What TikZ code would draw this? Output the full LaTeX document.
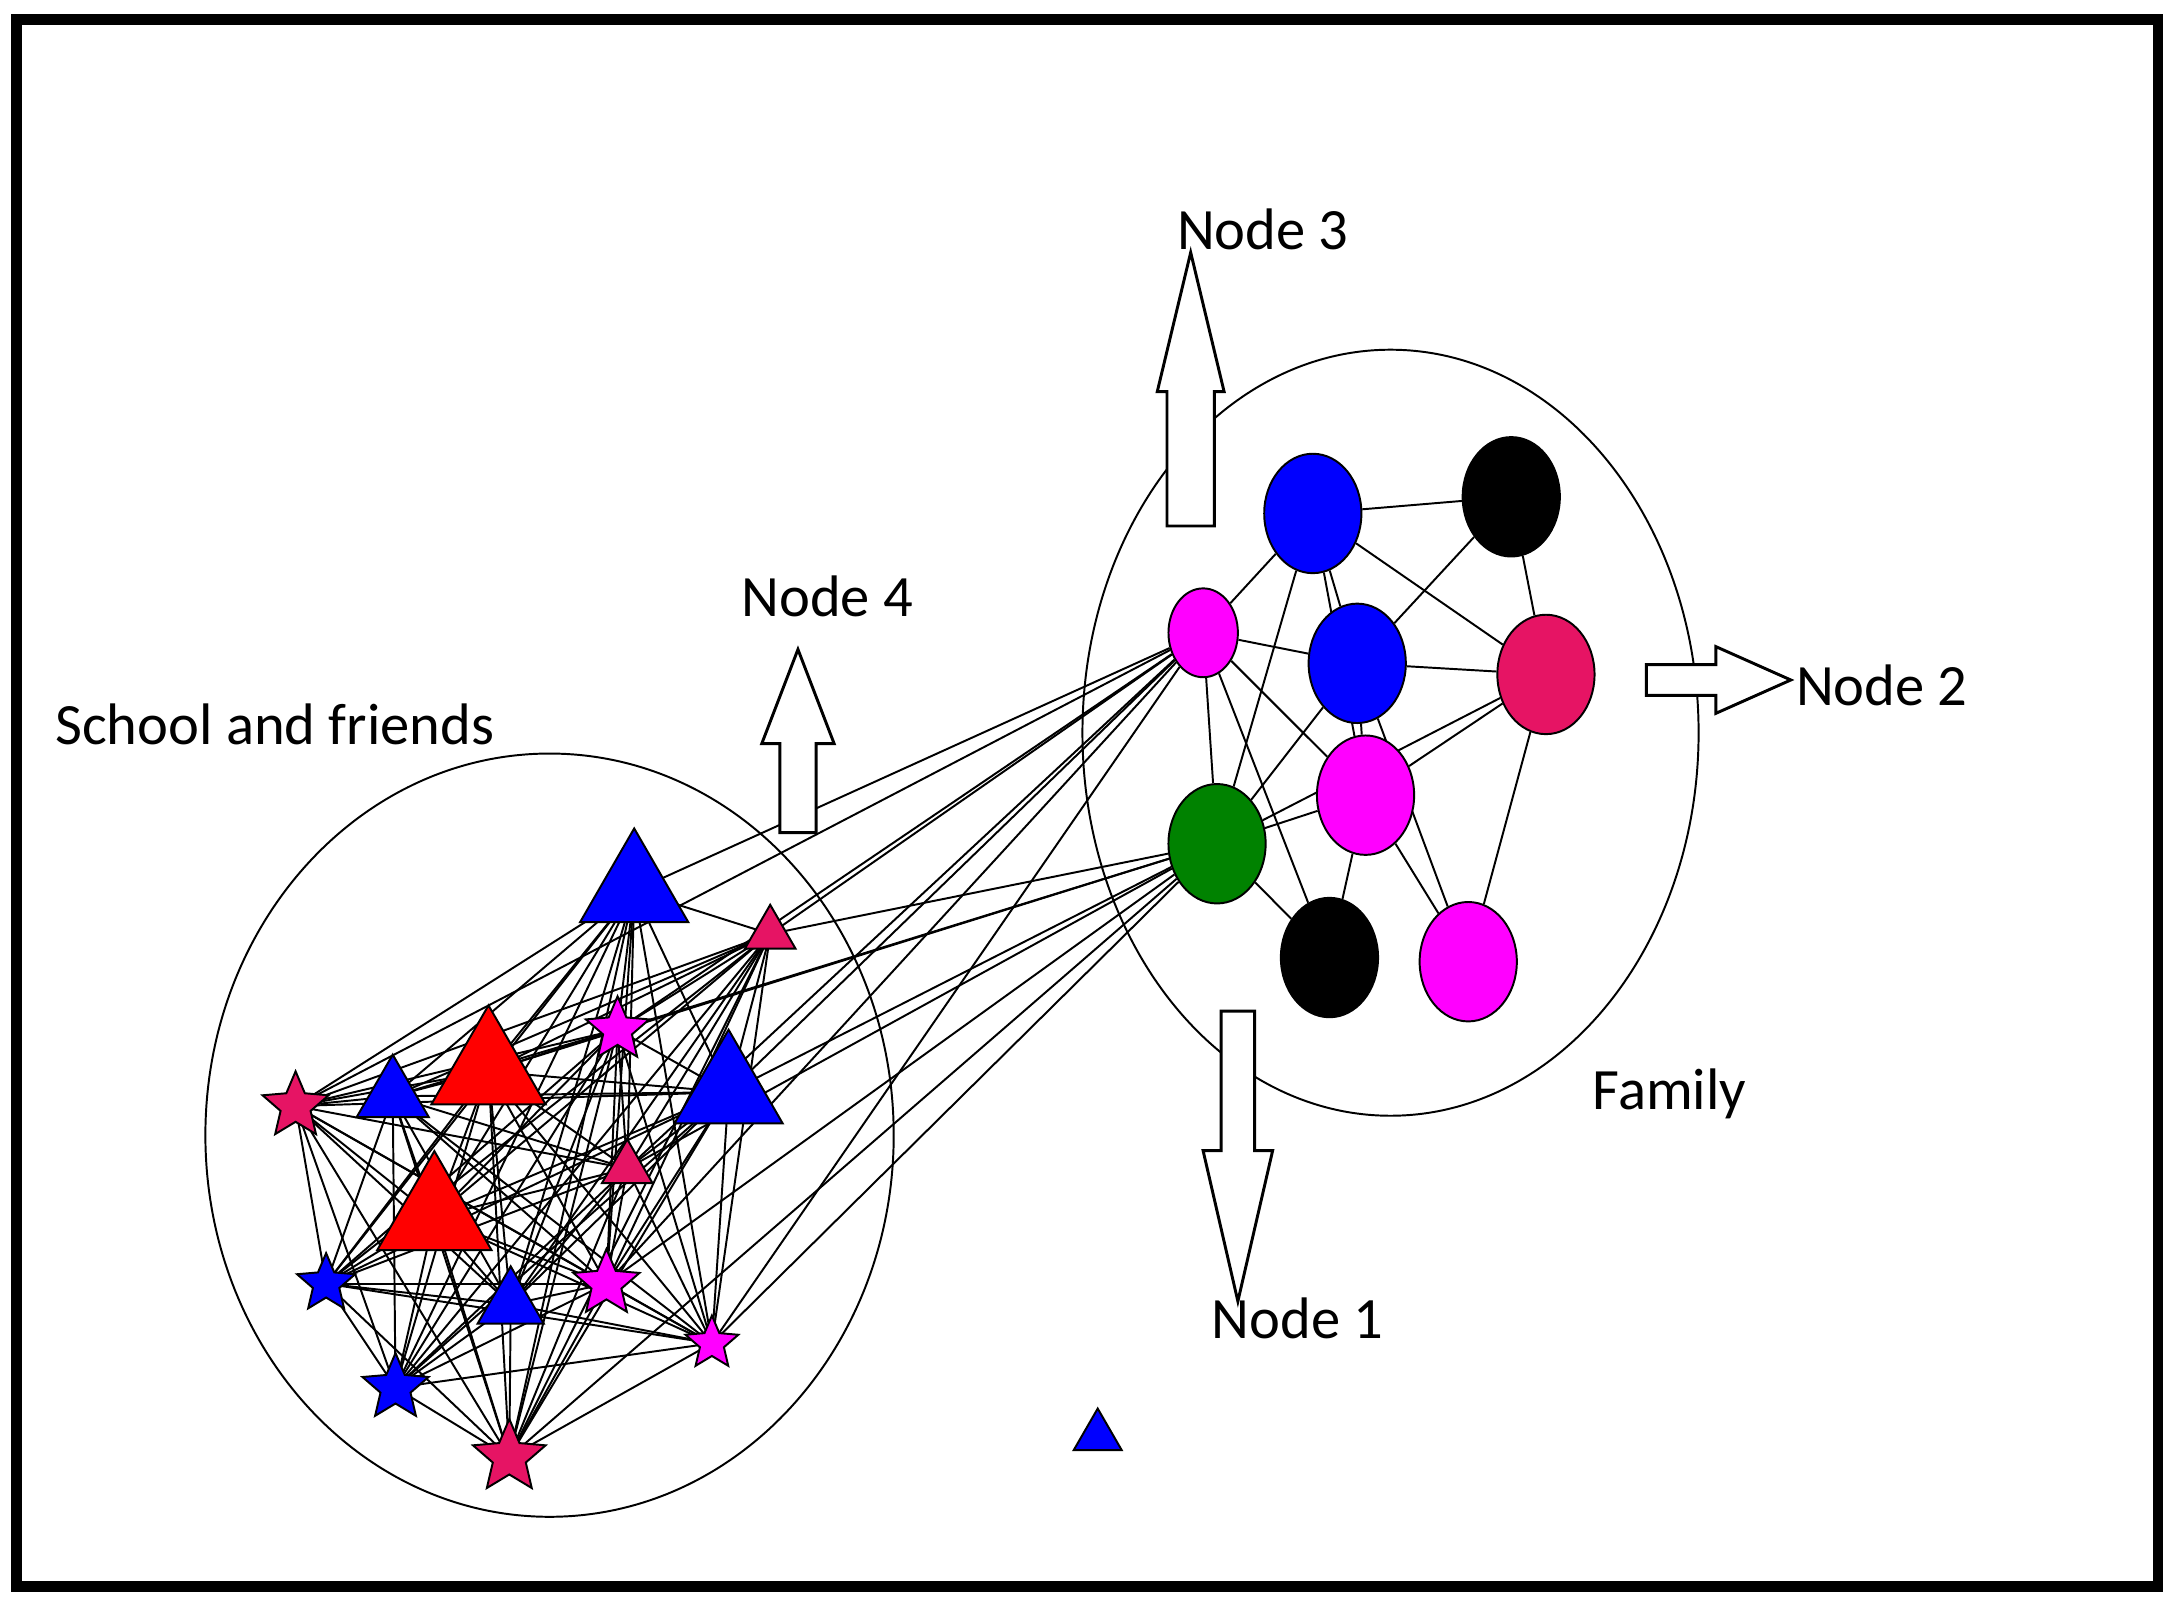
\documentclass[tikz,border=0pt]{standalone}
\usepackage{fontspec}
\setmainfont{Carlito}
\usetikzlibrary{shapes.geometric,shapes.arrows,backgrounds}
\definecolor{crimson}{RGB}{230,20,100}
\definecolor{mag}{RGB}{255,0,255}
\definecolor{grn}{RGB}{0,130,0}
\tikzset{
  fam/.style={ellipse,draw,fill=#1,minimum width=0.7cm,minimum height=0.86cm,inner sep=0pt},
  tri/.style={regular polygon,regular polygon sides=3,draw,fill=#1,inner sep=0pt},
  st/.style={star,star points=5,star point ratio=2.2,draw,fill=#1,inner sep=0pt},
  blk/.style={single arrow,draw,fill=white,inner xsep=0pt,line width=0.6pt},
  lbl/.style={font=\fontsize{12}{14}\selectfont},
  link/.style={draw,line width=0.4pt}
}
\begin{document}
\begin{tikzpicture}[x=0.01cm,y=-0.01cm]
  \useasboundingbox (0,0) rectangle (1568,1152);
  \draw[line width=2.2pt] (12,14) rectangle (1555,1143);
  % groups
  \draw (1002,528) ellipse [x radius=222,y radius=276];
  \draw (396,818) ellipse [x radius=248,y radius=275];
  % family
  \node[fam=blue] (f1) at (946,370) {};
  \node[fam=black] (f2) at (1089,358) {};
  \node[fam=mag,minimum width=0.5cm,minimum height=0.64cm] (f3) at (867,456) {};
  \node[fam=blue] (f4) at (978,478) {};
  \node[fam=crimson] (f5) at (1114,486) {};
  \node[fam=mag] (f6) at (984,573) {};
  \node[fam=grn] (f7) at (877,608) {};
  \node[fam=black] (f8) at (958,690) {};
  \node[fam=mag] (f9) at (1058,693) {};
  % school and friends
  \node[tri=blue,minimum size=0.9cm] (s1) at (457,642) {};
  \node[tri=crimson,minimum size=0.42cm] (s2) at (555,673) {};
  \node[st=mag,minimum size=0.48cm] (s3) at (445,742) {};
  \node[tri=red,minimum size=0.95cm] (s4) at (352,772) {};
  \node[tri=blue,minimum size=0.9cm] (s5) at (525,787) {};
  \node[st=crimson,minimum size=0.5cm] (s6) at (213,797) {};
  \node[tri=blue,minimum size=0.6cm] (s7) at (283,790) {};
  \node[tri=crimson,minimum size=0.42cm] (s8) at (452,842) {};
  \node[tri=red,minimum size=0.95cm] (s9) at (313,877) {};
  \node[st=blue,minimum size=0.44cm] (s10) at (235,925) {};
  \node[tri=blue,minimum size=0.55cm] (s11) at (368,940) {};
  \node[st=mag,minimum size=0.5cm] (s12) at (437,925) {};
  \node[st=mag,minimum size=0.4cm] (s13) at (513,968) {};
  \node[st=blue,minimum size=0.5cm] (s14) at (285,1000) {};
  \node[st=crimson,minimum size=0.55cm] (s15) at (367,1050) {};
  \node[tri=blue,minimum size=0.4cm] (lone) at (791,1035) {};
  \begin{scope}[on background layer]
    \foreach \a/\b in {f1/f2,f1/f3,f1/f4,f1/f5,f1/f6,f1/f7,f2/f4,f2/f5,f3/f4,f3/f6,
      f3/f7,f3/f8,f4/f5,f4/f7,f4/f9,f5/f6,f5/f7,f5/f9,f6/f7,f6/f8,f6/f9,f7/f8,f4/f6}
      \path[link] (\a) -- (\b);
    \foreach \i [evaluate=\i as \k using int(\i+1)] in {1,...,14}
      \foreach \j in {\k,...,15}
        \path[link] (s\i.center) -- (s\j.center);
    \foreach \s in {s1,s2,s3,s5,s6,s8,s12,s13}
      \path[link] (f3) -- (\s.center);
    \foreach \s in {s2,s3,s4,s5,s8,s12,s13,s15}
      \path[link] (f7) -- (\s.center);
  \end{scope}
  % callouts
  \node[blk,minimum height=1.97cm,inner ysep=0.16cm,single arrow head extend=0.07cm,
    single arrow tip angle=27,rotate=90] (a3) at (858,316) {};
  \node[blk,minimum height=1.32cm,inner ysep=0.12cm,single arrow head extend=0.13cm,
    single arrow tip angle=42,rotate=90] (a4) at (575,551) {};
  \node[blk,minimum height=2.09cm,inner ysep=0.11cm,single arrow head extend=0.13cm,
    single arrow tip angle=26,rotate=-90] (a1) at (892,807) {};
  \node[blk,minimum height=1.04cm,inner ysep=0.1cm,single arrow head extend=0.13cm,
    single arrow tip angle=48] (a2) at (1226,490) {};
  \node[lbl] (n3) at (910,165) {Node 3};
  \node[lbl] (n4) at (596,430) {Node 4};
  \node[lbl] (n2) at (1356,494) {Node 2};
  \node[lbl] (n1) at (935,950) {Node 1};
  \node[lbl] (fam) at (1203,788) {Family};
  \node[lbl] (sch) at (198,522) {School and friends};
\end{tikzpicture}
\end{document}
